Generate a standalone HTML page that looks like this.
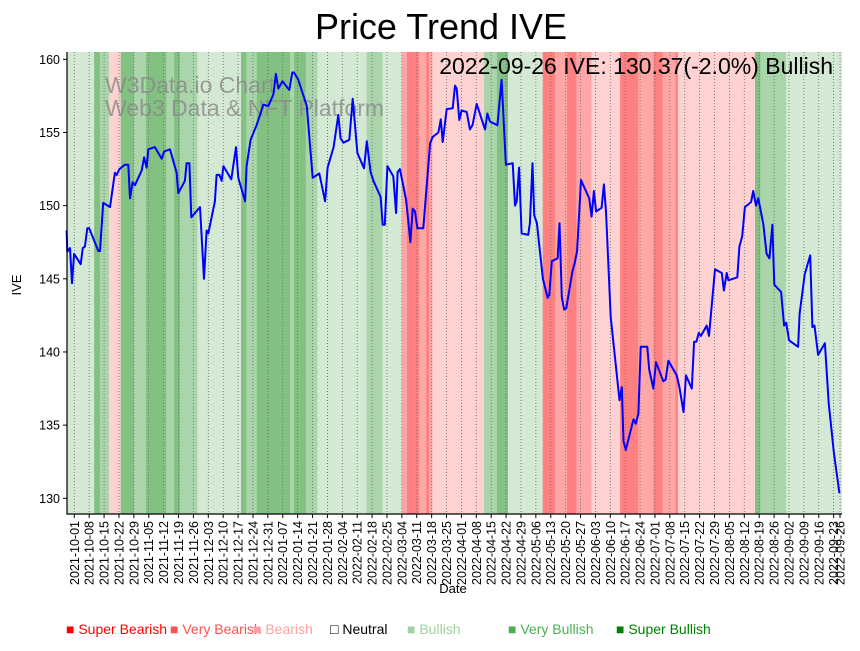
<!DOCTYPE html>
<html><head><meta charset="utf-8"><style>
body{margin:0;background:#fff;}
svg text{font-family:"Liberation Sans","DejaVu Sans",sans-serif;}
</style></head><body>
<svg id="chart" width="860" height="646" xmlns="http://www.w3.org/2000/svg">
<rect width="860" height="646" fill="#fff"/>
<g id="bands"></g>
<g id="grid"></g>
<g id="wm">
<text x="105" y="93" font-size="23" fill="#888" fill-opacity="0.8">W3Data.io Chart</text>
<text x="105" y="116" font-size="23" fill="#888" fill-opacity="0.8">Web3 Data &amp; NFT Platform</text>
</g>
<path id="line" fill="none" stroke="#0000ff" stroke-width="2" stroke-linejoin="round"/>
<g id="axes"></g>
<text x="441" y="39" font-size="36" text-anchor="middle" fill="#000">Price Trend IVE</text>
<text x="833" y="74" font-size="23" text-anchor="end" fill="#000">2022-09-26 IVE: 130.37(-2.0%) Bullish</text>
<text x="453" y="593" font-size="13" text-anchor="middle">Date</text>
<text transform="translate(21,285) rotate(-90)" font-size="13" text-anchor="middle">IVE</text>
<g id="legend" font-size="14">
<text x="66" y="634" fill="#ff0000">■ Super Bearish</text>
<text x="170" y="634" fill="#ff5050">■ Very Bearish</text>
<text x="253" y="634" fill="#ffa0a0">■ Bearish</text>
<text x="330" y="634" fill="#000">□ Neutral</text>
<text x="407" y="634" fill="#a0d0a0">■ Bullish</text>
<text x="508" y="634" fill="#4caf50">■ Very Bullish</text>
<text x="616" y="634" fill="#008000">■ Super Bullish</text>
</g>
</svg>
<script>
// day offsets from 2021-10-01 and prices (aligned, 10 per line)
const days = [
-3.6,-3.3,-2.0,-1.1,-0.1,3.0,4.0,5.0,6.1,7.0,
11.3,12.1,13.6,16.8,19.1,19.9,21.2,23.8,25.4,26.2,
27.4,28.5,31.7,32.8,34.0,34.8,37.9,41.1,42.2,45.0,
48.1,48.9,52.0,52.8,54.1,55.0,59.1,61.0,62.2,63.0,
66.1,66.9,68.2,69.3,70.1,73.8,76.0,77.1,80.3,81.0,
82.9,85.7,88.9,91.2,93.6,94.8,95.9,97.9,101.1,102.5,
103.3,105.3,109.3,112.1,115.2,117.9,119.1,121.9,124.1,125.2,
126.5,129.3,130.9,133.1,136.2,137.5,139.3,140.6,144.0,145.0,
146.0,147.2,150.0,151.3,152.0,153.1,156.0,158.0,159.1,160.2,
161.3,164.1,167.3,168.5,171.2,172.3,173.2,175.1,177.9,179.0,
179.8,181.0,182.1,184.5,186.0,187.2,189.2,193.1,194.2,195.4,
198.9,200.9,202.9,206.1,207.2,208.0,209.1,210.3,213.4,214.2,
215.4,216.2,217.5,220.3,222.5,223.3,224.5,227.2,228.1,229.2,
230.3,231.3,234.2,235.3,236.4,238.2,242.1,243.2,244.3,245.3,
247.9,249.0,250.0,252.2,256.3,257.4,258.2,259.3,262.9,264.0,
265.2,266.3,269.4,270.3,272.2,273.5,276.9,278.0,279.3,283.2,
284.5,286.4,287.6,290.3,291.4,292.5,293.6,294.6,297.3,298.4,
301.2,304.4,305.4,306.7,307.5,311.7,312.7,314.0,315.3,318.2,
319.2,320.5,321.6,324.0,325.5,326.8,328.2,329.1,332.3,333.7,
334.7,336.0,340.3,341.0,343.4,346.0,347.0,348.0,349.7,352.9,
354.7,357.1,359.7];
const prices = [
148.3,146.85,147.1,144.7,146.7,146.0,147.1,147.2,148.45,148.45,
146.9,146.9,150.2,149.9,152.25,152.1,152.5,152.8,152.8,150.5,
151.6,151.4,152.4,153.3,152.6,153.85,154.0,153.2,153.7,153.85,
152.25,150.85,151.7,152.9,152.9,149.2,149.9,145.0,148.3,148.1,
150.3,152.1,152.1,151.7,152.7,151.8,154.0,151.9,150.3,152.7,
154.5,155.5,156.9,156.8,157.6,159.0,158.0,158.5,157.9,159.1,
159.1,158.6,156.8,151.9,152.2,150.3,152.6,154.0,156.2,154.6,
154.3,154.5,157.3,153.6,152.55,154.4,152.3,151.7,150.6,148.7,
148.7,152.7,152.0,149.5,152.3,152.5,150.4,147.5,149.8,149.6,
148.45,148.45,154.25,154.7,155.0,155.9,154.35,156.6,156.65,158.2,
158.0,155.85,156.5,156.4,155.2,155.5,156.95,155.2,156.3,155.75,
155.5,158.6,152.8,152.9,150.0,150.3,152.6,148.1,148.0,148.8,
152.9,149.35,148.8,145.0,143.7,143.9,146.2,146.4,148.8,143.75,
142.9,143.0,145.5,146.1,146.9,151.75,150.5,149.25,151.0,149.6,
149.85,151.45,149.6,142.4,136.7,137.6,133.9,133.3,135.4,135.1,
135.8,140.35,140.35,138.8,137.5,139.3,138.0,138.1,139.4,138.4,
137.6,135.9,138.4,137.5,140.7,140.7,141.3,141.1,141.8,141.1,
145.65,145.4,144.2,145.4,144.9,145.1,147.2,147.9,149.9,150.25,
151.0,150.0,150.5,148.7,146.7,146.4,148.7,144.6,144.1,141.8,
142.0,140.8,140.35,142.6,145.3,146.6,141.7,141.8,139.8,140.6,
136.5,133.1,130.35];
// sentiment bands: start day and level (-3..3)
const bandStarts = [-3.4,9.3,12.1,16.3,21.8,28.1,33.7,43.4,46.9,49.7,58.0,78.4,81.0,85.7,101.4,103.3,108.9,114.4,137.4,144.9,153.9,156.3,162.2,165.4,166.9,168.5,192.6,198.6,204.0,220.2,226.0,231.5,236.2,243.2,256.6,265.2,272.3,276.7,282.5,283.8,320.0,322.7,334.6];
const bandLevels = [1,3,2,-1,3,2,3,2,3,2,1,3,2,3,2,3,2,1,2,1,-2,-3,-2,-3,-2,-1,2,3,1,-3,-2,-3,-2,-1,-3,-2,-3,-2,-3,-1,3,2,1];
const yTicks = [130,135,140,145,150,155,160];
const tickCount = 52;

const NS="http://www.w3.org/2000/svg";
const L=67,R=842,T=52,B=514;
const dayMax=361.0;
const xs=d=>74.3+d*2.127;
const ys=v=>498.3-(v-130)*14.633;
const colors={"-3":"#ff8080","-2":"#ffa6a6","-1":"#ffd2d2","1":"#d4e9d4","2":"#aad4aa","3":"#82c182"};
function mk(tag,attrs,parent){const e=document.createElementNS(NS,tag);for(const k in attrs)e.setAttribute(k,attrs[k]);parent.appendChild(e);return e;}

const bandsG=document.getElementById('bands');
bandStarts.forEach((s,i)=>{
  const e=i+1<bandStarts.length?bandStarts[i+1]:dayMax;
  const x0=Math.max(L,xs(s)), x1=Math.min(R,xs(e));
  const r=mk('rect',{x:x0,y:T,width:Math.max(0,x1-x0),height:B-T,fill:colors[bandLevels[i]]},bandsG);
  
  
});

const tickDays=[],tickLabels=[];
const base=Date.UTC(2021,9,1);
for(let k=0;k<tickCount;k++){tickDays.push(k*7);}
tickDays.push(360);
tickDays.forEach(d=>{const dt=new Date(base+d*86400000);tickLabels.push(dt.toISOString().slice(0,10));});

const gridG=document.getElementById('grid');
const axesG=document.getElementById('axes');
tickDays.forEach((d,i)=>{
  const x=xs(d);
  const g=mk('line',{x1:x,x2:x,y1:T,y2:B,stroke:"#666",'stroke-width':0.8,'stroke-dasharray':"1,2"},gridG);
  
  
  const t=mk('line',{x1:x,x2:x,y1:B,y2:B+4,stroke:"#000",'stroke-width':1},axesG);
  
  
  const lb=mk('text',{transform:`translate(${x+4.5},${B+7}) rotate(-90)`,'font-size':12.5,'text-anchor':'end'},axesG);
  lb.textContent=tickLabels[i];
  
  
});
yTicks.forEach(v=>{
  const y=ys(v);
  const t=mk('line',{x1:L-4,x2:L,y1:y,y2:y,stroke:"#000",'stroke-width':1},axesG);
  
  
  const lb=mk('text',{x:L-7,y:y+4.5,'font-size':12.5,'text-anchor':'end'},axesG);
  lb.textContent=v;
  
  
});
const ax=mk('path',{d:`M${L},${T}V${B}H${R}`,fill:"none",stroke:"#000",'stroke-width':1.2},axesG);



const n=Math.min(days.length,prices.length);
let dstr='';
for(let i=0;i<n;i++){dstr+=(i?'L':'M')+xs(days[i]).toFixed(1)+','+ys(prices[i]).toFixed(1);}
document.getElementById('line').setAttribute('d',dstr);
</script>
</body></html>
